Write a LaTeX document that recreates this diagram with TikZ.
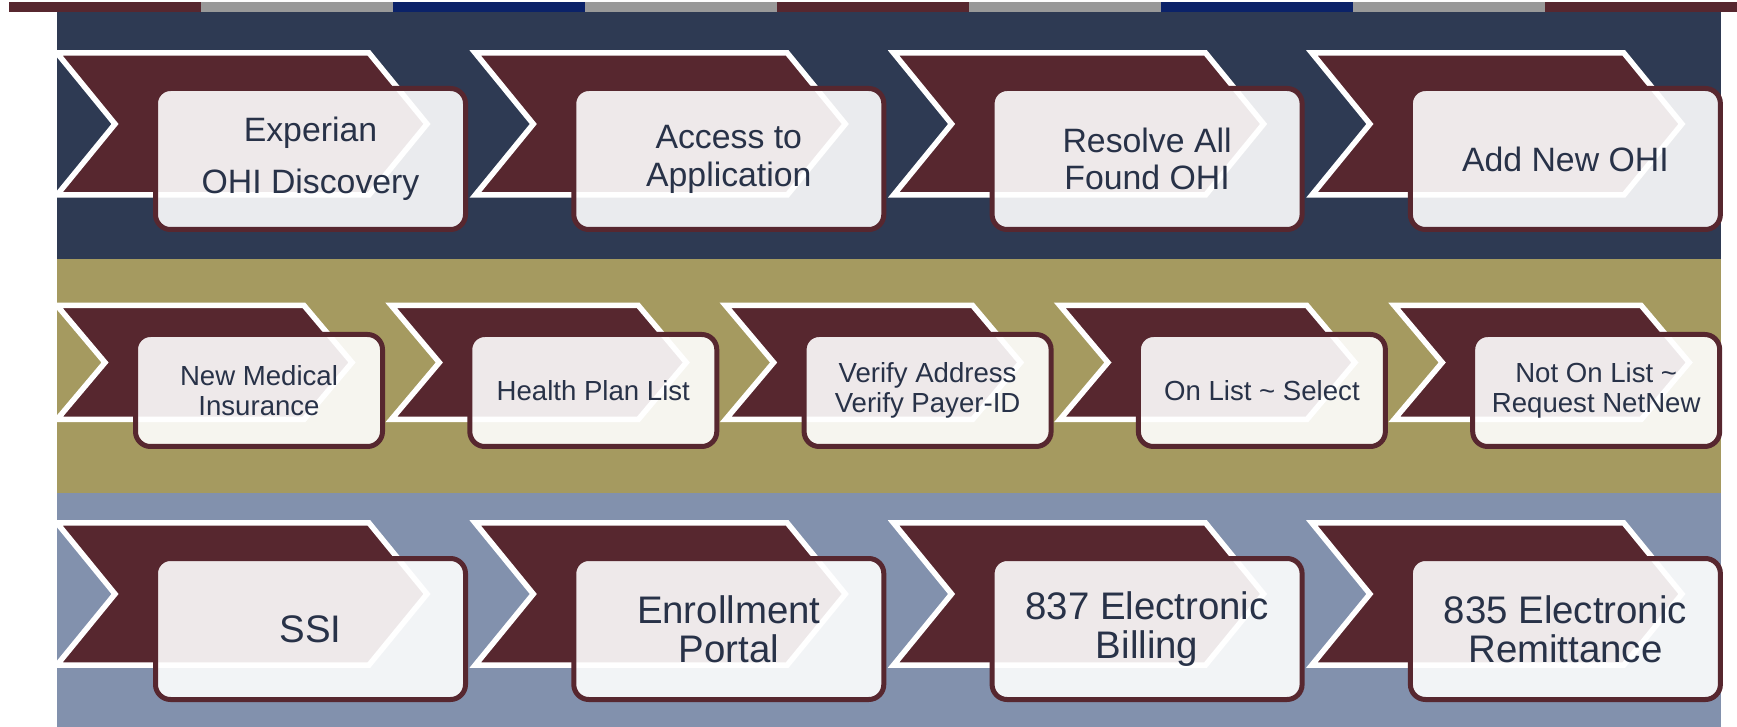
\documentclass[tikz,border=0pt]{standalone}
\usepackage{fontspec}
\setmainfont{Liberation Sans}
\usetikzlibrary{positioning}

\definecolor{wine}{HTML}{57272F}
\definecolor{bandnavy}{HTML}{2E3A53}
\definecolor{bandolive}{HTML}{A59A60}
\definecolor{bandblue}{HTML}{8291AD}
\definecolor{stripgray}{HTML}{999999}
\definecolor{stripnavy}{HTML}{0B2268}
\definecolor{textslate}{HTML}{283248}

\tikzset{chev/.style={fill=wine,draw=white,line width=2.75pt,line join=miter}}
\tikzset{stepbox/.style={draw=wine,line width=2.5pt,fill=white,fill opacity=0.9,text opacity=1,
		rounded corners=7.5pt,text=textslate,align=center,inner sep=0pt}}
\tikzset{bigbox/.style={stepbox,minimum width=155pt,minimum height=70.5pt,font=\fontsize{16.9}{18.9}\selectfont}}
\tikzset{smallbox/.style={stepbox,minimum width=123.5pt,minimum height=56pt,font=\fontsize{13.8}{15}\selectfont}}
\tikzset{lowbox/.style={bigbox,font=\fontsize{19.2}{19.5}\selectfont}}

\begin{document}
\begin{tikzpicture}[x=0.5pt,y=-0.5pt]
	\useasboundingbox (0,0) rectangle (1737,727);

	%% coloured strip on top
	\foreach \c [count=\k from 0] in {wine,stripgray,stripnavy,stripgray,wine,stripgray,stripnavy,stripgray,wine}
		\fill[\c] ({9+192*\k},2) rectangle ({201+192*\k},12);

	% three bands
	\fill[bandnavy] (57,12) rectangle (1721,259);
	\fill[bandolive] (57,259) rectangle (1721,493);
	\fill[bandblue] (57,493) rectangle (1721,727);

	% chevrons behind the boxes
	\foreach \y in {0,470}
		\foreach \i in {0,...,3}
			\draw[chev] ({57+418.3*\i},{53+\y}) -- ++(312,0) -- ++(58,71) -- ++(-58,71) -- ++(-312,0) -- ++(58,-71) -- cycle;
	\foreach \i in {0,...,4}
		\draw[chev] ({57+334.3*\i},305.5) -- ++(247,0) -- ++(48,57) -- ++(-48,57) -- ++(-247,0) -- ++(48,-57) -- cycle;

	%% first row
	\node[bigbox] (experian) at (310.5,159) {Experian\\[7pt]OHI Discovery};
	\node[bigbox] (access) at (728.8,159) {Access to\\Application};
	\node[bigbox] (resolve) at (1147.1,159) {Resolve All\\Found OHI};
	\node[bigbox] (addnew) at (1565.4,159) {Add New OHI};

	%% second row
	\node[smallbox] (newmed) at (259,390.5) {New Medical\\Insurance};
	\node[smallbox] (planlist) at (593.3,390.5) {Health Plan List};
	\node[smallbox] (verify) at (927.6,390.5) {Verify Address\\Verify Payer-ID};
	\node[smallbox] (onlist) at (1261.9,390.5) {On List \textasciitilde{} Select};
	\node[smallbox] (notonlist) at (1596.2,390.5) {Not On List \textasciitilde\\Request NetNew};

	%% third row
	\node[lowbox] (ssi) at (310.5,629) {SSI};
	\node[lowbox] (portal) at (728.8,629) {Enrollment\\Portal};
	\node[lowbox] (billing) at (1147.1,629) {837 Electronic\\Billing};
	\node[lowbox] (remit) at (1565.4,629) {835 Electronic\\Remittance};
\end{tikzpicture}
\end{document}
